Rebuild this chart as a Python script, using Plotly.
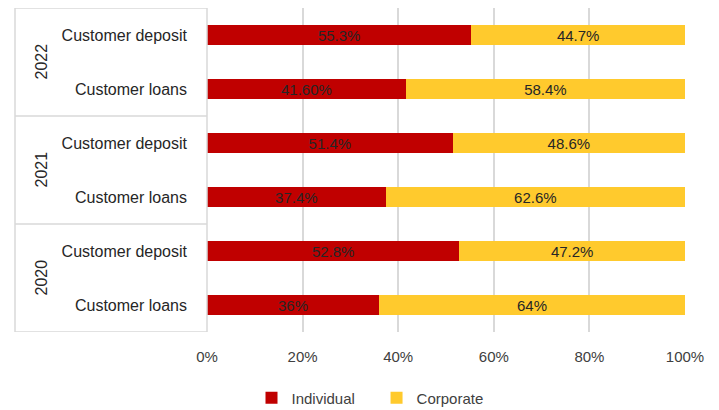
import plotly.graph_objects as go

years = ["2020", "2020", "2021", "2021", "2022", "2022"]
categories = ["Customer loans", "Customer deposit", "Customer loans", "Customer deposit",
              "Customer loans", "Customer deposit"]
individual = [36.0, 52.8, 37.4, 51.4, 41.6, 55.3]
corporate = [64.0, 47.2, 62.6, 48.6, 58.4, 44.7]
individual_labels = ["36%", "52.8%", "37.4%", "51.4%", "41.60%", "55.3%"]
corporate_labels = ["64%", "47.2%", "62.6%", "48.6%", "58.4%", "44.7%"]
x_ticks = [0, 20, 40, 60, 80, 100]
x_tick_labels = ["0%", "20%", "40%", "60%", "80%", "100%"]

FONT = "Liberation Sans Narrow, Arial Narrow, Liberation Sans, Arial, sans-serif"
keys = [f"{y}|{c}" for y, c in zip(years, categories)]

fig = go.Figure()
fig.add_trace(go.Bar(
    y=keys, x=individual, orientation="h", name="Individual\u00a0\u00a0\u00a0\u00a0",
    marker=dict(color="#C00000", line=dict(width=0)),
    text=individual_labels, textposition="inside", insidetextanchor="middle",
    constraintext="none",
    textfont=dict(color="#262626", size=15, family=FONT), width=0.36,
))
fig.add_trace(go.Bar(
    y=keys, x=corporate, orientation="h", name="Corporate",
    marker=dict(color="#FFCA2D", line=dict(width=0)),
    text=corporate_labels, textposition="inside", insidetextanchor="middle",
    constraintext="none",
    textfont=dict(color="#262626", size=15, family=FONT), width=0.36,
))

# group box lines and year labels
L = -192 / 478
line_style = dict(color="#D9D9D9", width=1.5)
for b in [-0.5, 1.5, 3.5, 5.5]:
    fig.add_shape(type="line", xref="paper", yref="y", x0=L, x1=0, y0=b, y1=b, line=line_style)
fig.add_shape(type="line", xref="paper", yref="y", x0=L, x1=L, y0=-0.5, y1=5.5, line=line_style)
fig.add_shape(type="line", xref="paper", yref="y", x0=0, x1=0, y0=-0.5, y1=5.5, line=line_style)
for i in range(0, len(years), 2):
    fig.add_annotation(xref="paper", yref="y", x=(30 - 207) / 478, y=i + 0.5,
                       text=years[i], textangle=-90, showarrow=False,
                       font=dict(size=16, color="#262626", family=FONT))

fig.update_layout(
    barmode="stack",
    width=719, height=410,
    margin=dict(l=207, r=34, t=8, b=78, autoexpand=False),
    paper_bgcolor="white", plot_bgcolor="white",
    font=dict(family=FONT, color="#404040", size=15),
    showlegend=True,
    legend=dict(orientation="h", xref="container", yref="container",
                x=370 / 719, xanchor="center", y=(410 - 398) / 410, yanchor="middle",
                font=dict(size=15, color="#404040", family=FONT),
                itemwidth=30, tracegroupgap=0, traceorder="normal"),
    xaxis=dict(range=[0, 100], tickvals=x_ticks, ticktext=x_tick_labels,
               showgrid=True, gridcolor="#D9D9D9", gridwidth=1.5, zeroline=False,
               showline=False, ticks="", ticklabelstandoff=14,
               tickfont=dict(size=15, color="#404040", family=FONT)),
    yaxis=dict(type="category", categoryorder="array", categoryarray=keys,
               tickvals=keys, ticktext=categories, range=[-0.5, 5.5],
               showgrid=False, showline=False, zeroline=False, ticks="",
               ticklabelstandoff=19,
               tickfont=dict(size=16, color="#262626", family=FONT)),
)

fig.write_html("out.html")
